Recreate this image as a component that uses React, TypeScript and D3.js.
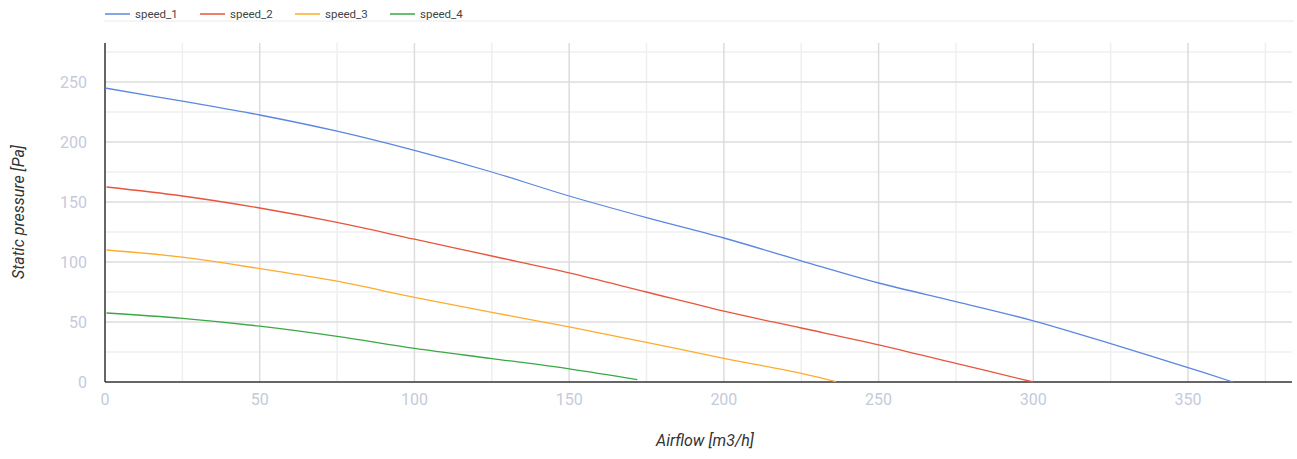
import React from "react";
import * as d3 from "d3";

const seriesNames = ["speed_1", "speed_2", "speed_3", "speed_4"];
const seriesColors = ["#5b87e0", "#e8553e", "#ffab2e", "#3aa845"];

const speed1X = [0, 25, 50, 75, 100, 125, 150, 175, 200, 225, 250, 275, 300, 325, 350, 364.5];
const speed1Y = [245, 234, 222.5, 209, 193, 175, 155, 137, 120, 101, 82.5, 67, 51, 32, 12, 0];
const speed2X = [0.5, 25, 50, 75, 100, 125, 150, 175, 200, 225, 250, 275, 300];
const speed2Y = [162.5, 155, 145, 133, 119, 105, 91, 75, 59, 45, 31, 15.5, 0];
const speed3X = [0.5, 25, 50, 75, 100, 125, 150, 175, 200, 225, 236.2];
const speed3Y = [110, 104, 94.5, 84, 70.5, 58, 46, 33, 19.7, 7.2, 0.3];
const speed4X = [0.5, 25, 50, 75, 100, 125, 150, 172];
const speed4Y = [57.5, 53, 46.5, 38, 28, 19.5, 11, 2];

const xTicks = [0, 50, 100, 150, 200, 250, 300, 350];
const yTicks = [0, 50, 100, 150, 200, 250];
const xMinor = [25, 75, 125, 175, 225, 275, 325, 375];
const yMinor = [25, 75, 125, 175, 225, 275];

const xTitle = "Airflow [m3/h]";
const yTitle = "Static pressure [Pa]";

export default function App() {
  const W = 1297, H = 459;
  const left = 105, right = 1292, top = 43, bottom = 382;
  const x = d3.scaleLinear().domain([0, 383.6]).range([left, right]);
  const y = d3.scaleLinear().domain([0, 282.5]).range([bottom, top]);
  const seriesX = [speed1X, speed2X, speed3X, speed4X];
  const seriesY = [speed1Y, speed2Y, speed3Y, speed4Y];
  const line = d3
    .line<[number, number]>()
    .x((d) => x(d[0]))
    .y((d) => y(d[1]))
    .curve(d3.curveCatmullRom.alpha(0.5));
  const font = "Roboto, 'Noto Sans', sans-serif";

  return (
    <svg width={W} height={H} style={{ position: "absolute", left: 0, top: 0 }}>
      <rect width={W} height={H} fill="#fff" />
      {seriesNames.map((n, i) => (
        <g key={n} transform={`translate(${105 + i * 95},0)`}>
          <line x1={0} x2={25} y1={14} y2={14} stroke={seriesColors[i]} strokeWidth={2} opacity={0.75} />
          <text x={30} y={18} fontSize={11.5} fill="#444" fontFamily={font}>{n}</text>
        </g>
      ))}
      <line x1={104} x2={1294} y1={21} y2={21} stroke="#eaeaea" strokeWidth={1} />
      {xMinor.filter((v) => x(v) < right).map((v) => (
        <line key={"xm" + v} x1={x(v)} x2={x(v)} y1={top} y2={bottom} stroke="#efefef" strokeWidth={1.5} />
      ))}
      {yMinor.map((v) => (
        <line key={"ym" + v} x1={left} x2={right} y1={y(v)} y2={y(v)} stroke="#efefef" strokeWidth={1.5} />
      ))}
      {xTicks.filter((v) => v > 0).map((v) => (
        <line key={"xg" + v} x1={x(v)} x2={x(v)} y1={top} y2={bottom} stroke="#dcdcdc" strokeWidth={1.5} />
      ))}
      {yTicks.filter((v) => v > 0).map((v) => (
        <line key={"yg" + v} x1={left} x2={right} y1={y(v)} y2={y(v)} stroke="#dcdcdc" strokeWidth={1.5} />
      ))}
      <line x1={left} x2={left} y1={top} y2={bottom} stroke="#333" strokeWidth={1.5} />
      <line x1={left} x2={right} y1={bottom} y2={bottom} stroke="#333" strokeWidth={1.5} />
      {seriesNames.map((n, i) => (
        <path
          key={n}
          d={line(seriesX[i].map((v, j) => [v, seriesY[i][j]] as [number, number])) || ""}
          fill="none"
          stroke={seriesColors[i]}
          strokeWidth={1.3}
        />
      ))}
      {yTicks.map((v) => (
        <text key={"yt" + v} x={87} y={y(v) + 6} textAnchor="end" fontSize={16} fill="#c5cadc" fontFamily={font}>{v}</text>
      ))}
      {xTicks.map((v) => (
        <text key={"xt" + v} x={x(v)} y={405} textAnchor="middle" fontSize={16} fill="#c5cadc" fontFamily={font}>{v}</text>
      ))}
      <text x={705} y={446} textAnchor="middle" fontSize={16} fontStyle="italic" fill="#333" fontFamily={font}>{xTitle}</text>
      <text transform={`translate(24,212) rotate(-90)`} textAnchor="middle" fontSize={16} fontStyle="italic" fill="#333" fontFamily={font}>{yTitle}</text>
    </svg>
  );
}
